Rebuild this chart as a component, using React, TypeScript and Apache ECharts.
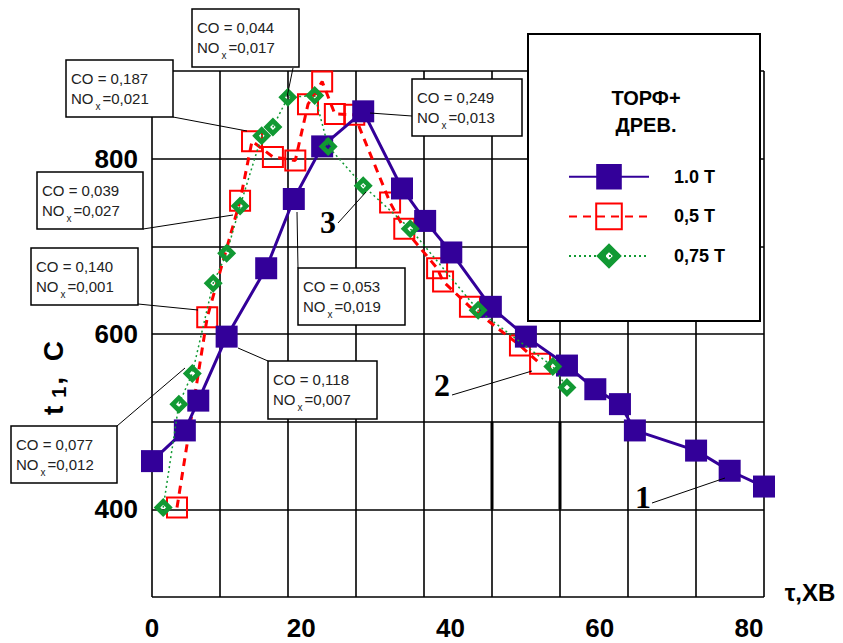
import React, { useEffect, useRef } from 'react';
import * as echarts from 'echarts';

// ---- data ----
const seriesNames = ['1.0 T', '0,5 T', '0,75 T'];
const xTicks = [0, 20, 40, 60, 80];
const yTicks = [400, 600, 800];

const blueData: number[][] = [
  [0, 455], [4.4, 490], [6.2, 524], [10, 597], [15.3, 675], [19, 754], [22.8, 814],
  [28.3, 854], [33.5, 766], [36.6, 729], [40.1, 693], [45.4, 631], [50.1, 597],
  [55.6, 564], [59.4, 537], [62.7, 520], [64.7, 490], [72.9, 467], [77.4, 444], [82, 426],
];
const redData: number[][] = [
  [3.35, 402], [7.4, 619], [11.8, 752], [13.4, 820], [16.2, 802], [19.2, 798],
  [20.9, 862], [22.8, 888], [24.5, 851], [27.1, 850], [31.9, 750], [33.8, 720],
  [38.2, 675], [39.0, 660], [42.6, 631], [49.3, 587], [52.0, 566],
];
const greenData: number[][] = [
  [1.5, 402], [3.6, 520], [5.4, 555], [8.2, 658], [10, 692], [11.8, 746], [14.7, 826],
  [16.2, 836], [18.2, 870], [21.8, 872], [23.6, 814], [28.3, 769], [34.6, 720],
  [43.7, 627], [53.7, 563], [55.6, 539],
];
// thick grid segments (grid-division x index, y values)
const thickMarksA: number[][] = [[5, 400], [5, 500]];
const thickMarksB: number[][] = [[6, 400], [6, 500]];

const annoCO = ['0,044', '0,187', '0,249', '0,039', '0,140', '0,053', '0,118', '0,077'];
const annoNOx = ['0,017', '0,021', '0,013', '0,027', '0,001', '0,019', '0,007', '0,012'];
const curveLabels = ['1', '2', '3'];
const legendTitle = ['ТОРФ+', 'ДРЕВ.'];

// ---- layout (pixels) ----
const annoBoxes = [
  [192, 9, 107, 58], [66, 60, 107, 57], [412, 79, 110, 57], [37, 172, 106, 57],
  [31, 248, 107, 57], [298, 268, 107, 57], [268, 361, 109, 58], [11, 426, 106, 57],
];
const annoLeaders = [
  [293, 68, 287, 97], [173, 117, 247, 131], [370, 113, 412, 116], [143, 229, 233, 215],
  [138, 304, 198, 310], [297, 212, 298, 268], [238, 348, 268, 361], [117, 426, 185, 368],
];
const curveLabelPos = [[643, 497], [442, 385], [328, 222]];
const curveLeaders = [[652, 503, 725, 478], [452, 395, 532, 371], [338, 223, 366, 192]];

const BLUE = '#330099';
const RED = '#ff0000';
const GREEN = '#119933';
const diamondPath = 'path://M0,-10L10,0L0,10L-10,0Z M0,-3L-3,0L0,3L3,0Z';
const TXT = '#222';

export default function App() {
  const ref = useRef<HTMLDivElement>(null);
  useEffect(() => {
    if (!ref.current) return;
    const chart = echarts.init(ref.current, undefined, { renderer: 'svg' });

    const graphics: any[] = [];
    // legend box
    graphics.push({
      type: 'rect', zlevel: 1, z: 10,
      shape: { x: 528, y: 34, width: 232, height: 287 },
      style: { fill: '#fff', stroke: '#000', lineWidth: 2 },
    });
    legendTitle.forEach((t, i) => {
      graphics.push({
        type: 'text', zlevel: 1, z: 11, x: 646, y: 98 + i * 27,
        style: {
          text: t, fill: '#000', fontSize: 20, fontWeight: 'bold',
          fontFamily: 'Liberation Sans', align: 'center', verticalAlign: 'middle',
        },
      });
    });
    // annotation leaders and boxes
    annoLeaders.forEach((l) => {
      graphics.push({
        type: 'line', zlevel: 1, z: 20,
        shape: { x1: l[0], y1: l[1], x2: l[2], y2: l[3] },
        style: { stroke: '#000', lineWidth: 1 },
      });
    });
    annoBoxes.forEach((b, i) => {
      graphics.push({
        type: 'rect', zlevel: 1, z: 21,
        shape: { x: b[0], y: b[1], width: b[2], height: b[3] },
        style: { fill: '#fff', stroke: '#000', lineWidth: 1.5 },
      });
      graphics.push({
        type: 'text', zlevel: 1, z: 22, x: b[0] + 5, y: b[1] + 18,
        style: {
          text: 'CO = ' + annoCO[i], fill: TXT, fontSize: 15,
          fontFamily: 'Liberation Sans', align: 'left', verticalAlign: 'middle',
        },
      });
      graphics.push({
        type: 'text', zlevel: 1, z: 22, x: b[0] + 5, y: b[1] + 41,
        style: {
          text: '{n|NO}{s|x}{n|=' + annoNOx[i] + '}', fill: TXT,
          fontSize: 15, fontFamily: 'Liberation Sans', align: 'left', verticalAlign: 'middle',
          rich: {
            n: { fontSize: 15, fontFamily: 'Liberation Sans', fill: TXT, verticalAlign: 'top' },
            s: { fontSize: 10, fontFamily: 'Liberation Sans', fill: TXT, verticalAlign: 'top', padding: [10, 2, 0, 2] },
          },
        },
      });
    });
    // curve number labels
    curveLeaders.forEach((l) => {
      graphics.push({
        type: 'line', zlevel: 1, z: 20,
        shape: { x1: l[0], y1: l[1], x2: l[2], y2: l[3] },
        style: { stroke: '#000', lineWidth: 1 },
      });
    });
    curveLabels.forEach((t, i) => {
      graphics.push({
        type: 'text', zlevel: 1, z: 22, x: curveLabelPos[i][0], y: curveLabelPos[i][1],
        style: {
          text: t, fill: '#000', fontSize: 32, fontWeight: 'bold',
          fontFamily: 'Liberation Serif', align: 'center', verticalAlign: 'middle',
        },
      });
    });
    // axis titles
    graphics.push({
      type: 'text', zlevel: 1, z: 22, x: 54, y: 378, rotation: Math.PI / 2,
      style: {
        text: '{a|t }{s|1}{a|,  C}', fill: '#000', align: 'center', verticalAlign: 'middle',
        fontSize: 28, fontWeight: 'bold', fontFamily: 'Liberation Sans',
        rich: {
          a: { fontSize: 28, fontWeight: 'bold', fontFamily: 'Liberation Sans', fill: '#000', verticalAlign: 'top' },
          s: { fontSize: 20, fontWeight: 'bold', fontFamily: 'Liberation Sans', fill: '#000', verticalAlign: 'top', padding: [10, 2, 0, 0] },
        },
      },
    });
    graphics.push({
      type: 'text', zlevel: 1, z: 22, x: 810, y: 592,
      style: {
        text: 'τ,ХВ', fill: '#000', fontSize: 24, fontWeight: 'bold',
        fontFamily: 'Liberation Sans', align: 'center', verticalAlign: 'middle',
      },
    });

    const gridLine = { show: true, lineStyle: { color: '#000', width: 1.6 } };

    chart.setOption({
      animation: false,
      backgroundColor: '#fff',
      grid: { left: 152, top: 71, width: 612, height: 526, containLabel: false },
      xAxis: [
        {
          type: 'value', min: 0, max: 82, interval: 20, position: 'bottom',
          axisLine: { show: false }, axisTick: { show: false }, splitLine: { show: false },
          axisLabel: {
            color: '#000', fontSize: 26, fontWeight: 'bold', fontFamily: 'Liberation Sans', margin: 18,
            formatter: (v: number) => (xTicks.includes(v) ? String(v) : ''),
          },
        },
        {
          type: 'value', min: 0, max: 9, interval: 1, position: 'top',
          axisLine: { show: false }, axisTick: { show: false }, axisLabel: { show: false },
          splitLine: gridLine,
        },
      ],
      yAxis: {
        type: 'value', min: 300, max: 900, interval: 100,
        axisLine: { show: false }, axisTick: { show: false }, splitLine: gridLine,
        axisLabel: {
          color: '#000', fontSize: 26, fontWeight: 'bold', fontFamily: 'Liberation Sans', margin: 14,
          formatter: (v: number) => (yTicks.includes(v) ? String(v) : ''),
        },
      },
      legend: {
        data: seriesNames, orient: 'vertical', left: 563, top: 159, zlevel: 1, z: 30,
        itemWidth: 80, itemHeight: 32, itemGap: 13, selectedMode: false,
        textStyle: { color: '#000', fontSize: 18, fontWeight: 'bold', fontFamily: 'Liberation Sans', padding: [0, 0, 0, 20] },
      },
      graphic: { elements: graphics },
      series: [
        {
          type: 'line', name: seriesNames[0], data: blueData, z: 3, clip: false,
          symbol: 'rect', symbolSize: 22,
          itemStyle: { color: BLUE },
          lineStyle: { color: BLUE, width: 3 },
        },
        {
          type: 'line', name: seriesNames[1], data: redData, z: 2, clip: false,
          symbol: 'rect', symbolSize: 20,
          itemStyle: { color: 'rgba(255,255,255,0)', borderColor: RED, borderWidth: 2 },
          lineStyle: { color: RED, width: 3, type: [8, 6] },
        },
        {
          type: 'line', name: seriesNames[2], data: greenData, z: 4, clip: false,
          symbol: diamondPath, symbolSize: 19,
          itemStyle: { color: GREEN },
          lineStyle: { color: GREEN, width: 1.5, type: [2, 3] },
        },
        {
          type: 'line', xAxisIndex: 1, data: thickMarksA, z: 1, silent: true,
          symbol: 'none', lineStyle: { color: '#000', width: 3 },
        },
        {
          type: 'line', xAxisIndex: 1, data: thickMarksB, z: 1, silent: true,
          symbol: 'none', lineStyle: { color: '#000', width: 3 },
        },
      ],
    });
    return () => chart.dispose();
  }, []);

  return (
    <div
      ref={ref}
      style={{ position: 'fixed', left: 0, top: 0, width: 843, height: 643, background: '#fff' }}
    />
  );
}
